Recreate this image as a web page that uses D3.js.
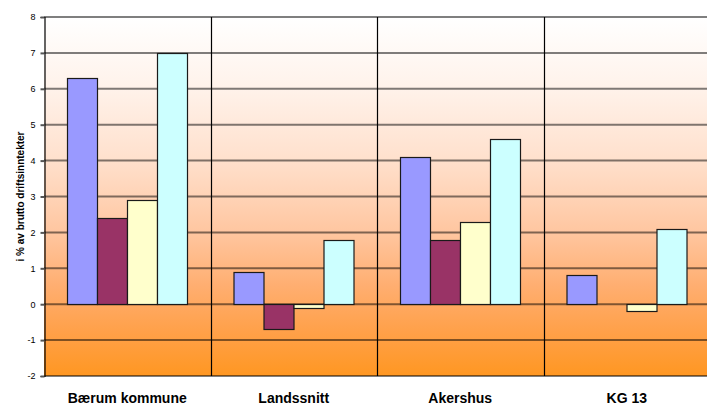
<!DOCTYPE html>
<html>
<head>
<meta charset="utf-8">
<script src="https://cdn.jsdelivr.net/npm/d3@7"></script>
<style>
  html, body { margin: 0; padding: 0; background: #fff; }
  svg { display: block; font-family: "Liberation Sans", Arial, sans-serif; }
</style>
</head>
<body>
<svg id="chart" width="707" height="405"></svg>
<script>
// Categories and the four series (percent of gross operating income)
const categories = ["Bærum kommune", "Landssnitt", "Akershus", "KG 13"];
const seriesA = [6.3, 0.9, 4.1, 0.8];
const seriesB = [2.4, -0.7, 1.8, null];
const seriesC = [2.9, -0.1, 2.3, -0.2];
const seriesD = [7.0, 1.8, 4.6, 2.1];
const seriesColors = ["#9999FF", "#993366", "#FFFFCC", "#CCFFFF"];
const yTicks = [-2, -1, 0, 1, 2, 3, 4, 5, 6, 7, 8];
const yTitle = "i % av brutto driftsinntekter";

const allSeries = [seriesA, seriesB, seriesC, seriesD];

const svg = d3.select("#chart");
const margin = { left: 44, top: 17, right: -3, bottom: 29 };
const W = 707, H = 405;
const x0 = margin.left, x1 = W - margin.right;
const yTop = margin.top, yBot = H - margin.bottom;

const x = d3.scaleBand().domain(categories).range([x0, x1]).paddingInner(0).paddingOuter(0);
const y = d3.scaleLinear().domain([-2, 8]).range([yBot, yTop]);
const inner = d3.scaleBand().domain(d3.range(allSeries.length))
  .range([0, x.bandwidth()]).paddingInner(0).paddingOuter(0.77);

// Background gradient: pale at the top, orange towards the bottom
const defs = svg.append("defs");
const grad = defs.append("linearGradient").attr("id", "bg")
  .attr("x1", 0).attr("y1", 0).attr("x2", 0).attr("y2", 1);
[
  [0, "#FFFFFF"], [0.2, "#FFF2EA"], [0.4, "#FFE0CC"], [0.6, "#FFC6A0"],
  [0.75, "#FFAE70"], [0.88, "#FFA048"], [1, "#FF9722"]
].forEach(([o, c]) => grad.append("stop").attr("offset", o).attr("stop-color", c));

svg.append("rect")
  .attr("x", x0).attr("y", yTop)
  .attr("width", x1 - x0).attr("height", yBot - yTop)
  .attr("fill", "url(#bg)");

// Horizontal gridlines
svg.append("g").selectAll("line").data(yTicks).join("line")
  .attr("x1", x0).attr("x2", x1)
  .attr("y1", d => y(d)).attr("y2", d => y(d))
  .attr("stroke", "#000").attr("stroke-opacity", 0.5).attr("stroke-width", 2);

// Bars
const groups = svg.append("g").selectAll("g").data(categories).join("g")
  .attr("transform", d => `translate(${x(d)},0)`);

groups.selectAll("rect")
  .data((c, ci) => allSeries.map((s, si) => ({ si, v: s[ci] })).filter(d => d.v !== null))
  .join("rect")
  .attr("x", d => Math.round(inner(d.si)) + 0.5)
  .attr("width", Math.round(inner.bandwidth()))
  .attr("y", d => Math.round(y(Math.max(0, d.v))) + 0.5)
  .attr("height", d => Math.abs(Math.round(y(d.v)) - Math.round(y(0))))
  .attr("fill", d => seriesColors[d.si])
  .attr("stroke", "#1a1a1a").attr("stroke-width", 1.2);

// Vertical category separators
svg.append("g").selectAll("line").data(categories.slice(1)).join("line")
  .attr("x1", d => Math.round(x(d)) + 0.5).attr("x2", d => Math.round(x(d)) + 0.5)
  .attr("y1", yTop).attr("y2", yBot)
  .attr("stroke", "#000").attr("stroke-width", 1.2);

// Y axis
const yAxis = d3.axisLeft(y).tickValues(yTicks).tickSize(4).tickPadding(5)
  .tickFormat(d => String(d));
const ya = svg.append("g").attr("transform", `translate(${x0 + 0.5},0)`).call(yAxis);
ya.select(".domain").attr("stroke", "#000").attr("stroke-width", 1.2);
ya.selectAll(".tick line").attr("stroke", "#555").attr("stroke-width", 2);
ya.selectAll(".tick text").attr("font-size", 9).attr("fill", "#000")
  .attr("font-family", "Liberation Sans, Arial, sans-serif");

// Category labels
svg.append("g").selectAll("text").data(categories).join("text")
  .attr("x", d => x(d) + x.bandwidth() / 2)
  .attr("y", 403)
  .attr("text-anchor", "middle")
  .attr("font-size", 14).attr("font-weight", "bold")
  .text(d => d);

// Y axis title
svg.append("text")
  .attr("transform", `translate(24,${(yTop + yBot) / 2}) rotate(-90)`)
  .attr("text-anchor", "middle")
  .attr("font-size", 10).attr("font-weight", "bold")
  .text(yTitle);
</script>
</body>
</html>
